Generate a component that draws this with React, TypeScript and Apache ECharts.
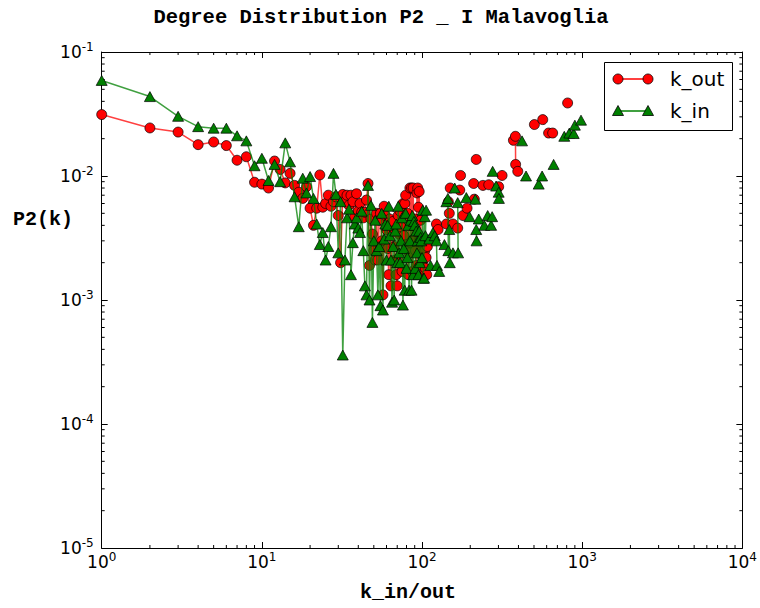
import React, { useEffect, useRef } from "react";
import * as echarts from "echarts";

const TITLE = "Degree Distribution P2 _ I Malavoglia";
const X_LABEL = "k_in/out";
const Y_LABEL = "P2(k)";
const SERIES_NAMES = ["k_out", "k_in"];
const X_RANGE = [1, 10000];
const Y_RANGE = [1e-5, 1e-1];

// k_out: [k, P2(k)]
const kOutPoints: [number, number][] = [
  [1, 0.0313], [2, 0.0244], [3, 0.0226], [4, 0.0179], [5, 0.0188], [6, 0.0176], [7, 0.0134], [8, 0.0143], [9, 0.0089], [10, 0.0086],
  [11, 0.008], [12, 0.0132], [13, 0.0113], [14, 0.0088], [15, 0.0105], [16, 0.0084], [17, 0.0074], [18, 0.0066], [19, 0.0082], [20, 0.0055],
  [21, 0.004], [22, 0.0055], [23, 0.0102], [24, 0.0056], [25, 0.006], [26, 0.007], [27, 0.0057], [28, 0.0062], [29, 0.0068], [30, 0.0048],
  [31, 0.002], [32, 0.0071], [33, 0.0062], [34, 0.007], [35, 0.0058], [36, 0.007], [37, 0.0062], [38, 0.0047], [39, 0.0072], [40, 0.0052],
  [41, 0.006], [42, 0.0051], [43, 0.0046], [44, 0.0051], [45, 0.0064], [46, 0.0087], [47, 0.0019], [48, 0.0045], [49, 0.0034], [50, 0.0025],
  [51, 0.0021], [52, 0.005], [53, 0.0021], [54, 0.0044], [55, 0.005], [56, 0.003], [57, 0.0011], [58, 0.0057], [59, 0.0048], [60, 0.0037],
  [61, 0.0026], [62, 0.0016], [63, 0.0045], [64, 0.0013], [65, 0.0036], [66, 0.0043], [67, 0.0027], [68, 0.0021], [69, 0.0016], [70, 0.0013],
  [71, 0.0048], [72, 0.0034], [73, 0.0052], [74, 0.0039], [75, 0.0017], [76, 0.006], [77, 0.0033], [78, 0.006], [79, 0.007], [80, 0.0028],
  [81, 0.005], [82, 0.0016], [83, 0.0024], [84, 0.008], [85, 0.0029], [86, 0.008], [87, 0.0017], [88, 0.008], [89, 0.0031], [90, 0.0045],
  [91, 0.0025], [92, 0.0019], [93, 0.0073], [94, 0.008], [95, 0.0056], [96, 0.0075], [97, 0.0031], [98, 0.0044], [99, 0.0029], [100, 0.0019],
  [101, 0.0022], [102, 0.0016], [103, 0.0031], [104, 0.0025], [105, 0.0018], [106, 0.0022], [107, 0.0016], [108, 0.0027],
  [123, 0.0041], [126, 0.0037], [142, 0.0041], [146, 0.0062], [148, 0.005], [150, 0.008], [156, 0.0041], [167, 0.0038], [172, 0.0077],
  [174, 0.0101], [180, 0.0048], [191, 0.0055], [210, 0.0087], [212, 0.0065], [218, 0.0136], [240, 0.0084], [261, 0.0085], [301, 0.0082],
  [316, 0.0101], [372, 0.0194], [383, 0.0209], [384, 0.0124], [396, 0.0109], [503, 0.026], [567, 0.0285], [617, 0.0222], [654, 0.0222],
  [811, 0.0388],
];

// k_in: [k, P2(k)]
const kInPoints: [number, number][] = [
  [1, 0.059], [2, 0.0437], [3, 0.0303], [4, 0.025], [5, 0.0243], [6, 0.0243], [7, 0.0211], [8, 0.0192], [9, 0.0121], [10, 0.0139],
  [11, 0.0092], [12, 0.0124], [13, 0.009], [14, 0.0185], [15, 0.013], [16, 0.0068], [17, 0.0039], [18, 0.0096], [19, 0.0073], [20, 0.0099],
  [21, 0.0066], [22, 0.0041], [23, 0.0028], [24, 0.0035], [25, 0.0021], [26, 0.0027], [27, 0.0039], [28, 0.0105], [29, 0.0071], [30, 0.0024],
  [31, 0.0062], [32, 0.00036], [33, 0.0021], [34, 0.0046], [35, 0.0054], [36, 0.0016], [37, 0.0029], [38, 0.0041], [39, 0.0046], [40, 0.0038],
  [41, 0.0035], [42, 0.0052], [43, 0.0025], [44, 0.0013], [45, 0.0011], [46, 0.0084], [47, 0.001], [48, 0.0058], [49, 0.00066], [50, 0.003],
  [51, 0.0044], [52, 0.0025], [53, 0.0011], [54, 0.0027], [55, 0.0009], [56, 0.005], [57, 0.00083], [58, 0.0031], [59, 0.0041], [60, 0.0021],
  [61, 0.004], [62, 0.0057], [63, 0.0033], [64, 0.0021], [65, 0.00096], [66, 0.0027], [67, 0.001], [68, 0.0036], [69, 0.0041], [70, 0.002],
  [71, 0.0057], [72, 0.0024], [73, 0.002], [74, 0.003], [75, 0.0046], [76, 0.00091], [77, 0.0026], [78, 0.0012], [79, 0.005], [80, 0.0018],
  [81, 0.0022], [82, 0.004], [83, 0.0012], [84, 0.003], [85, 0.0044], [86, 0.0012], [87, 0.0048], [88, 0.0016], [89, 0.0043], [90, 0.004],
  [91, 0.0018], [92, 0.0036], [93, 0.0024], [94, 0.003], [95, 0.0016], [96, 0.0036], [97, 0.002], [98, 0.0032], [99, 0.003], [100, 0.0022],
  [101, 0.0053], [102, 0.0015], [103, 0.0015], [104, 0.0047], [105, 0.0033], [106, 0.0053],
  [111, 0.0031], [113, 0.0019], [117, 0.0035], [120, 0.0033], [123, 0.003], [124, 0.0019], [128, 0.0017], [138, 0.0028], [142, 0.0062],
  [145, 0.0066], [146, 0.0025], [148, 0.0037], [149, 0.002], [156, 0.0024], [160, 0.008], [167, 0.0061], [168, 0.0024], [189, 0.0067],
  [198, 0.0047], [215, 0.0065], [218, 0.0037], [219, 0.003], [226, 0.0045], [245, 0.004], [257, 0.0048], [270, 0.004], [274, 0.0047],
  [276, 0.0109], [290, 0.0083], [301, 0.0074], [302, 0.0066], [421, 0.0192], [446, 0.01], [535, 0.0086], [562, 0.01], [663, 0.0124],
  [773, 0.0209], [831, 0.0222], [885, 0.022], [900, 0.0257], [983, 0.0282],
];

// zero-valued degrees are masked on a log axis, which breaks the line
function withGaps(points: [number, number][]) {
  const out: any[] = [];
  points.forEach((p, i) => {
    if (i > 0 && p[0] - points[i - 1][0] > 1) out.push([(p[0] + points[i - 1][0]) / 2, "-"]);
    out.push(p);
  });
  return out;
}

function minorValues(lo: number, hi: number) {
  const vals: number[] = [];
  for (let d = lo; d < hi; d *= 10) for (let m = 2; m <= 9; m++) vals.push(m * d);
  return vals;
}

const RED = "#ff0000";
const GREEN = "#008000";
const MONO = "'Liberation Mono', 'DejaVu Sans Mono', monospace";
const SANS = "'DejaVu Sans', sans-serif";

export default function App() {
  const ref = useRef<HTMLDivElement>(null);
  useEffect(() => {
    if (!ref.current) return;
    const chart = echarts.init(ref.current, undefined, { renderer: "svg" });
    const rich = {
      b: { fontSize: 17, fontFamily: SANS, color: "#000" },
      s: { fontSize: 12, fontFamily: SANS, color: "#000", padding: [0, 0, 10, 0] },
    };
    const fmt = (v: number) => `{b|10}{s|${Math.round(Math.log10(v))}}`;
    const axisLine = { show: true, onZero: false, lineStyle: { color: "#000", width: 1 } };
    const axisTick = { show: true, inside: true, length: 6, lineStyle: { color: "#000", width: 1 } };
    const xBase = {
      type: "log" as const,
      logBase: 10,
      min: X_RANGE[0],
      max: X_RANGE[1],
      axisLine,
      axisTick,
      splitLine: { show: false },
      minorTick: { show: false },
    };
    const yBase = {
      type: "log" as const,
      logBase: 10,
      min: Y_RANGE[0],
      max: Y_RANGE[1],
      axisLine,
      axisTick,
      splitLine: { show: false },
      minorTick: { show: false },
    };
    const minorX = minorValues(X_RANGE[0], X_RANGE[1]);
    const minorY = minorValues(Y_RANGE[0], Y_RANGE[1]);
    const tickLine = (x1: number, y1: number, x2: number, y2: number) => ({
      type: "line",
      shape: { x1, y1, x2, y2 },
      style: { stroke: "#000", lineWidth: 1 },
    });

    const legendX1 = 618;
    const legendX2 = 648;
    const tri = (cx: number, cy: number) => ({
      type: "polygon",
      shape: { points: [[cx - 5.5, cy + 4.5], [cx + 5.5, cy + 4.5], [cx, cy - 5.5]] },
      style: { fill: GREEN, stroke: "#000", lineWidth: 0.8 },
    });
    const dot = (cx: number, cy: number) => ({
      type: "circle",
      shape: { cx, cy, r: 5 },
      style: { fill: RED, stroke: "#000", lineWidth: 0.8 },
    });

    chart.setOption({
      animation: false,
      backgroundColor: "#fff",
      grid: { left: 101.7, top: 52, right: 17, bottom: 60 },
      xAxis: [
        {
          ...xBase,
          position: "bottom",
          axisLabel: { formatter: fmt, rich, margin: 3, color: "#000" },
        },
        { ...xBase, position: "top", axisLabel: { show: false } },
      ],
      yAxis: [
        {
          ...yBase,
          position: "left",
          axisLabel: { formatter: fmt, rich, margin: 8, color: "#000" },
        },
        { ...yBase, position: "right", axisLabel: { show: false } },
      ],
      graphic: [
        {
          type: "text",
          x: 381,
          y: 17,
          style: { text: TITLE, font: `bold 20.5px ${MONO}`, fill: "#000", textAlign: "center", textVerticalAlign: "middle" },
        },
        {
          type: "text",
          x: 13,
          y: 219,
          style: { text: Y_LABEL, font: `bold 20px ${MONO}`, fill: "#000", textAlign: "left", textVerticalAlign: "middle" },
        },
        {
          type: "text",
          x: 408,
          y: 592,
          style: { text: X_LABEL, font: `bold 20px ${MONO}`, fill: "#000", textAlign: "center", textVerticalAlign: "middle" },
        },
        {
          type: "group",
          z: 100,
          children: [
            { type: "rect", shape: { x: 604.5, y: 62.5, width: 128, height: 68 }, style: { fill: "#fff", stroke: "#000", lineWidth: 1 } },
            { type: "line", shape: { x1: legendX1, y1: 79, x2: legendX2, y2: 79 }, style: { stroke: RED, lineWidth: 1.5 } },
            dot(legendX1, 79),
            dot(legendX2, 79),
            { type: "text", x: 670, y: 79, style: { text: SERIES_NAMES[0], font: `20px ${SANS}`, fill: "#000", textVerticalAlign: "middle" } },
            { type: "line", shape: { x1: legendX1, y1: 111, x2: legendX2, y2: 111 }, style: { stroke: GREEN, lineWidth: 1.5 } },
            tri(legendX1, 111),
            tri(legendX2, 111),
            { type: "text", x: 670, y: 111, style: { text: SERIES_NAMES[1], font: `20px ${SANS}`, fill: "#000", textVerticalAlign: "middle" } },
          ],
        },
      ],
      series: [
        {
          name: SERIES_NAMES[0],
          type: "line",
          xAxisIndex: 0,
          yAxisIndex: 0,
          data: withGaps(kOutPoints),
          connectNulls: false,
          symbol: "circle",
          symbolSize: 10,
          showAllSymbol: true,
          itemStyle: { color: RED, borderColor: "#000", borderWidth: 0.7 },
          lineStyle: { color: "rgba(255,0,0,0.75)", width: 1.5 },
          z: 2,
        },
        {
          name: SERIES_NAMES[1],
          type: "line",
          xAxisIndex: 0,
          yAxisIndex: 0,
          data: withGaps(kInPoints),
          connectNulls: false,
          symbol: "triangle",
          symbolSize: [11, 10],
          showAllSymbol: true,
          itemStyle: { color: GREEN, borderColor: "#000", borderWidth: 0.7 },
          lineStyle: { color: "rgba(0,128,0,0.75)", width: 1.5 },
          z: 3,
        },
        {
          type: "custom",
          xAxisIndex: 0,
          yAxisIndex: 0,
          silent: true,
          data: minorX.map((v) => [v, Y_RANGE[0]]),
          renderItem: (_p: any, api: any) => {
            const v = api.value(0);
            const b = api.coord([v, Y_RANGE[0]]);
            const t = api.coord([v, Y_RANGE[1]]);
            return {
              type: "group",
              children: [tickLine(b[0], b[1], b[0], b[1] - 3), tickLine(t[0], t[1], t[0], t[1] + 3)],
            };
          },
          z: 1,
        },
        {
          type: "custom",
          xAxisIndex: 0,
          yAxisIndex: 0,
          silent: true,
          data: minorY.map((v) => [X_RANGE[0], v]),
          renderItem: (_p: any, api: any) => {
            const v = api.value(1);
            const l = api.coord([X_RANGE[0], v]);
            const r = api.coord([X_RANGE[1], v]);
            return {
              type: "group",
              children: [tickLine(l[0], l[1], l[0] + 3, l[1]), tickLine(r[0], r[1], r[0] - 3, r[1])],
            };
          },
          z: 1,
        },
      ],
    });
    return () => chart.dispose();
  }, []);
  return <div ref={ref} style={{ position: "absolute", left: 0, top: 0, width: 760, height: 608, background: "#fff" }} />;
}
